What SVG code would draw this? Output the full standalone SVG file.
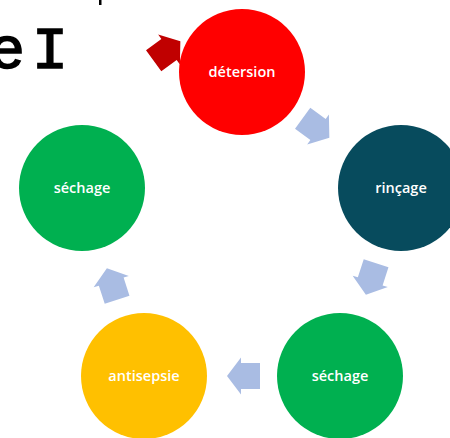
<svg xmlns="http://www.w3.org/2000/svg" width="450" height="438" viewBox="0 0 450 438">
  <defs>
    <path id="arr" d="M16.5,0 L2.5,-18.5 L2.5,-13 L-16.5,-13 L-16.5,13 L2.5,13 L2.5,18.5 Z"/>
  </defs>
  <style>
    .lbl { font-family: "Comic Sans MS", "Open Sans", "DejaVu Sans", sans-serif; font-size: 14.5px; font-weight: 600; fill: #ffffff; text-anchor: middle; }
    .title { font-family: "Liberation Mono", "Courier New", monospace; font-size: 60px; fill: #000000; stroke: #000000; stroke-width: 1.6px; }
    .cyc { fill: #A9BCE3; }
  </style>
  <rect width="450" height="438" fill="#ffffff"/>
  <g id="title">
    <text class="title" x="-11" y="68">e</text>
    <text class="title" x="32" y="68">I</text>
    <rect x="99" y="0" width="2.5" height="5" fill="#000000"/>
  </g>
  <g id="connectors">
    <use href="#arr" fill="#C00000" transform="translate(167,51) rotate(-36)"/>
    <use href="#arr" class="cyc" transform="translate(316,128) rotate(36)"/>
    <use href="#arr" class="cyc" transform="translate(371,279) rotate(108)"/>
    <use href="#arr" class="cyc" transform="translate(243.5,376) rotate(180)"/>
    <use href="#arr" class="cyc" transform="translate(112,284) rotate(252)"/>
  </g>
  <g id="detersion">
    <circle cx="242" cy="72" r="63" fill="#FF0000"/>
    <text class="lbl" x="242" y="77">détersion</text>
  </g>
  <g id="rincage">
    <circle cx="401" cy="188" r="63" fill="#074B5D"/>
    <text class="lbl" x="401" y="193">rinçage</text>
  </g>
  <g id="sechage2">
    <circle cx="340" cy="376" r="63" fill="#00B050"/>
    <text class="lbl" x="340" y="381">séchage</text>
  </g>
  <g id="antisepsie">
    <circle cx="144" cy="376" r="63" fill="#FFC000"/>
    <text class="lbl" x="144" y="381">antisepsie</text>
  </g>
  <g id="sechage1">
    <circle cx="82" cy="188" r="63" fill="#00B050"/>
    <text class="lbl" x="82" y="193">séchage</text>
  </g>
</svg>
